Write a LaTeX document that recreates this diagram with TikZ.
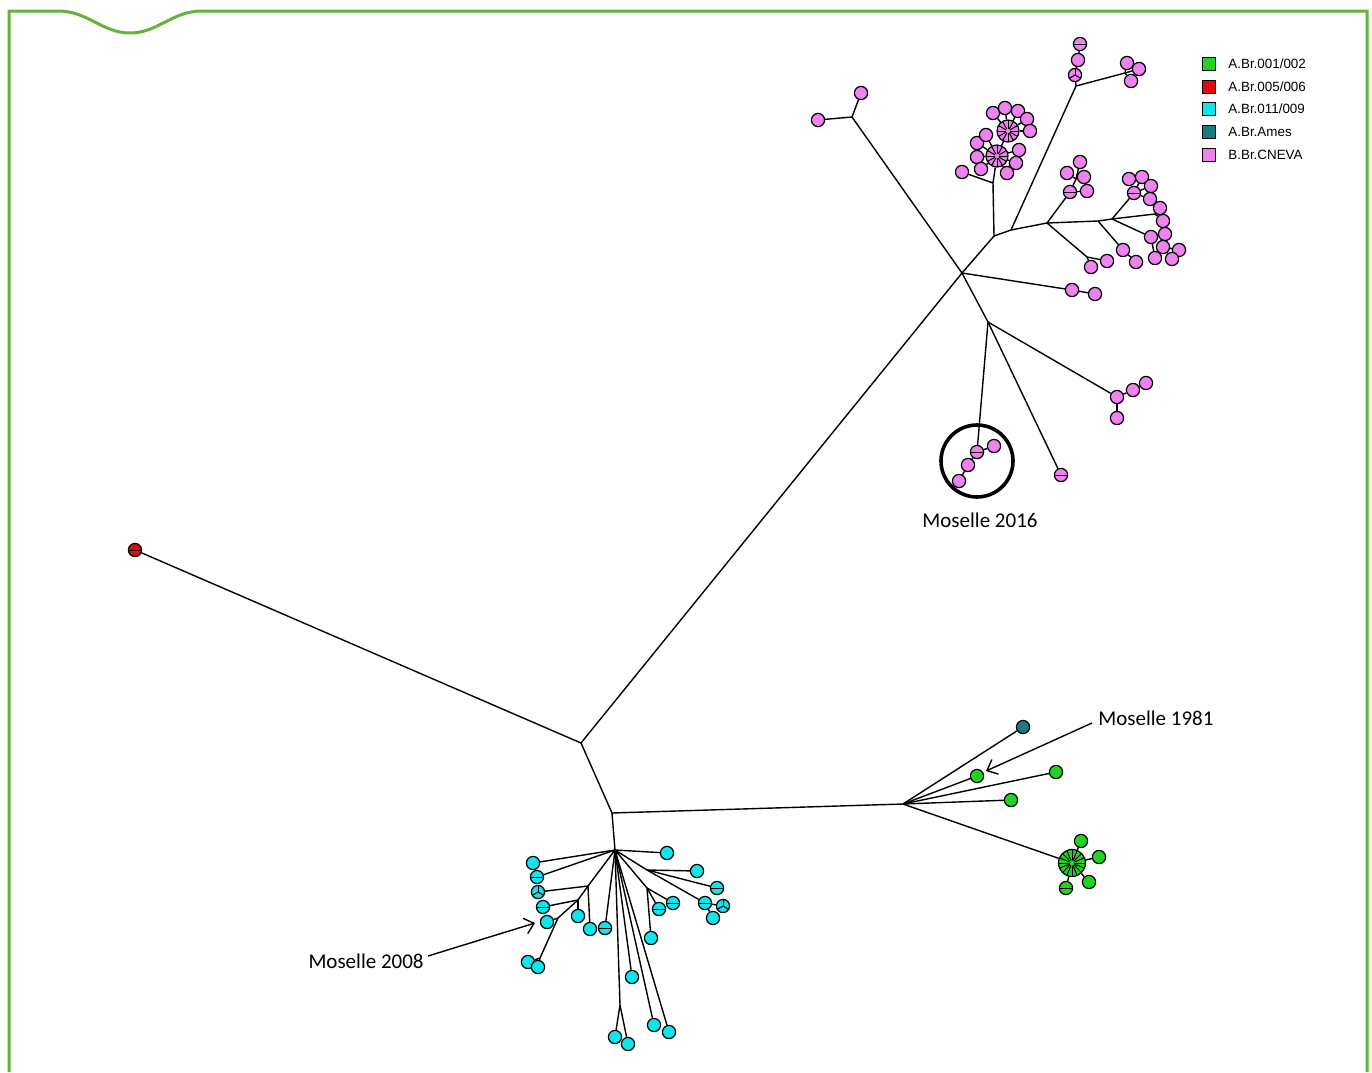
\documentclass[tikz,border=0pt]{standalone}
\usepackage{fontspec}
\setmainfont{Carlito}
\newfontfamily\legfont{Liberation Sans}
\usetikzlibrary{arrows.meta,backgrounds}
\definecolor{pk}{RGB}{238,130,238}
\definecolor{cy}{RGB}{16,228,236}
\definecolor{gr}{RGB}{34,212,34}
\definecolor{tl}{RGB}{26,124,124}
\definecolor{rd}{RGB}{228,8,8}
\definecolor{frm}{RGB}{102,178,58}
\tikzset{
  edge/.style={line width=0.7pt},
  lf/.style={circle,draw,line width=0.6pt,inner sep=0pt,minimum size=6.6pt},
  pkn/.style={lf,fill=pk},
  cyn/.style={lf,fill=cy},
  grn/.style={lf,fill=gr},
  tln/.style={lf,fill=tl},
  rdn/.style={lf,fill=rd},
  hsplit/.style={path picture={\draw[line width=0.5pt] (path picture bounding box.west) -- (path picture bounding box.east);}},
  tsplit/.style={path picture={\foreach \a in {90,210,330}{\draw[line width=0.5pt] (path picture bounding box.center) -- ++(\a:6pt);}}},
  starhub/.style={minimum size=11pt,path picture={\foreach \a in {0,30,...,330}{\draw[line width=0.5pt] (path picture bounding box.center) -- ++(\a:9pt);}\fill (path picture bounding box.center) circle (1.1pt);}},
  gstarhub/.style={minimum size=13.5pt,path picture={\foreach \a in {0,22.5,...,337.5}{\draw[line width=0.5pt] (path picture bounding box.center) -- ++(\a:10pt);}\fill (path picture bounding box.center) circle (1.3pt);}},
  lab/.style={font=\fontsize{10.5}{12}\selectfont,inner sep=0pt},
  legtxt/.style={font=\legfont\fontsize{6.7}{8}\selectfont,anchor=west,inner sep=0pt},
  legbox/.style={draw,line width=0.4pt,minimum size=6.4pt,inner sep=0pt},
  arr/.style={line width=0.7pt,-{Straight Barb[length=4.5pt,width=8pt]}},
  frame/.style={draw=frm,line width=1.5pt}
}
\begin{document}
\begin{tikzpicture}[x=0.5pt,y=-0.5pt]
\useasboundingbox (0,0) rectangle (1372,1072);
% frame
\draw[frame] (9,1072) -- (9,11) -- (58,11) .. controls (88,11) and (102,33) .. (130,33) .. controls (158,33) and (172,11) .. (202,11) -- (1367,11) -- (1367,1072);

% ---------- junctions ----------
\coordinate (J0) at (581,743);
\coordinate (J1) at (612,813);
\coordinate (PT) at (962,273);
\coordinate (Ptl) at (852,117);
\coordinate (PA) at (994,236);
\coordinate (PA2) at (993,183);
\coordinate (PB) at (1011,230);
\coordinate (PBt) at (1076,86);
\coordinate (PBr) at (1125,73);
\coordinate (PC) at (1047,223);
\coordinate (PDj) at (1076,179);
\coordinate (PE) at (1087,257);
\coordinate (PF) at (1098,221);
\coordinate (PG) at (1112,219);
\coordinate (PI) at (1155,214);
\coordinate (PL) at (988,322);
\coordinate (G) at (903,804);
\coordinate (CH) at (615,850);
\coordinate (Ja) at (588,886);
\coordinate (Jb) at (578,900);
\coordinate (Jc) at (558,918);
\coordinate (Jd) at (540,958);
\coordinate (Je) at (620,1005);
\coordinate (Jf) at (647,870);
\coordinate (Jg) at (647,888);

% ---------- red ----------
\node[rdn,hsplit] (rd1) at (135,550) {};

% ---------- pink ----------
\node[pkn] (p1) at (818,120) {};
\node[pkn] (p2) at (861,93) {};
\node[pkn] (p3) at (962,172) {};
\node[pkn,starhub] (S1) at (997,156) {};
\node[pkn,starhub] (S2) at (1008,131) {};
\node[pkn] (s1a) at (977,143) {};
\node[pkn] (s1b) at (977,157) {};
\node[pkn] (s1c) at (981,169) {};
\node[pkn] (s1d) at (1007,173) {};
\node[pkn] (s1e) at (1016,163) {};
\node[pkn] (s1f) at (1019,150) {};
\node[pkn] (s1g) at (986,135) {};
\node[pkn] (s2a) at (993,113) {};
\node[pkn] (s2b) at (1005,108) {};
\node[pkn] (s2c) at (1018,111) {};
\node[pkn] (s2d) at (1027,119) {};
\node[pkn] (s2e) at (1030,131) {};
\node[pkn,tsplit] (q1) at (1075,75) {};
\node[pkn] (q2) at (1078,60) {};
\node[pkn,hsplit] (q3) at (1080,44) {};
\node[pkn] (r1) at (1127,63) {};
\node[pkn] (r2) at (1139,69) {};
\node[pkn] (r3) at (1131,81) {};
\node[pkn,hsplit] (PD) at (1070,192) {};
\node[pkn] (d1) at (1067,173) {};
\node[pkn] (d2) at (1084,177) {};
\node[pkn] (d3) at (1080,162) {};
\node[pkn] (d4) at (1087,191) {};
\node[pkn] (e1) at (1091,267) {};
\node[pkn] (e2) at (1107,261) {};
\node[pkn] (f1) at (1123,250) {};
\node[pkn] (f2) at (1136,262) {};
\node[pkn,hsplit] (h0) at (1134,193) {};
\node[pkn] (h1) at (1129,179) {};
\node[pkn] (h2) at (1142,177) {};
\node[pkn] (h3) at (1151,186) {};
\node[pkn] (h4) at (1150,199) {};
\node[pkn] (i1) at (1160,208) {};
\node[pkn] (i2) at (1163,221) {};
\node[pkn] (k1) at (1151,237) {};
\node[pkn] (k2) at (1165,234) {};
\node[pkn] (k3) at (1163,247) {};
\node[pkn] (k4) at (1179,250) {};
\node[pkn] (k5) at (1172,259) {};
\node[pkn] (k6) at (1155,258) {};
\node[pkn] (m1) at (1072,290) {};
\node[pkn] (m2) at (1095,294) {};
\node[pkn] (n1) at (1117,397) {};
\node[pkn] (n2) at (1133,390) {};
\node[pkn] (n3) at (1146,383) {};
\node[pkn] (n4) at (1117,418) {};
\node[pkn,hsplit] (o1) at (1061,475) {};
\node[pkn,hsplit] (t1) at (977,452) {};
\node[pkn] (t2) at (994,446) {};
\node[pkn] (t3) at (968,465) {};
\node[pkn] (t4) at (959,481) {};
\node[circle,draw,line width=1.8pt,minimum size=36pt,inner sep=0pt] (ring) at (977,461) {};
\node[lab] (lab16) at (980,520) {Moselle 2016};

% ---------- green ----------
\node[tln] (tm) at (1023,727) {};
\node[grn] (g1) at (977,776) {};
\node[grn] (g2) at (1056,772) {};
\node[grn] (g3) at (1011,800) {};
\node[grn,gstarhub] (GS) at (1072,863) {};
\node[grn] (gs1) at (1081,841) {};
\node[grn] (gs2) at (1099,857) {};
\node[grn] (gs3) at (1089,882) {};
\node[grn,hsplit] (gs4) at (1066,888) {};
\node[lab,anchor=west] (lab81) at (1098,718) {Moselle 1981};
\coordinate (a81s) at (1092,723);
\coordinate (a81e) at (986,771);

% ---------- cyan ----------
\node[cyn] (c1) at (667,853) {};
\node[cyn] (c2) at (533,863) {};
\node[cyn,hsplit] (c3) at (537,877) {};
\node[cyn,tsplit] (c4) at (538,892) {};
\node[cyn,hsplit] (c5) at (543,907) {};
\node[cyn] (c6) at (578,916) {};
\node[cyn] (c7) at (547,922) {};
\node[cyn] (c7a) at (528,962) {};
\node[cyn] (c7b) at (538,967) {};
\node[cyn] (c8) at (590,929) {};
\node[cyn,hsplit] (c9) at (605,928) {};
\node[cyn] (c10) at (632,977) {};
\node[cyn] (c11) at (654,1025) {};
\node[cyn] (c12) at (669,1032) {};
\node[cyn] (c13) at (697,871) {};
\node[cyn,hsplit] (c14) at (717,888) {};
\node[cyn,hsplit] (c15) at (705,903) {};
\node[cyn,tsplit] (c16) at (723,906) {};
\node[cyn] (c17) at (713,918) {};
\node[cyn] (c18) at (651,938) {};
\node[cyn,hsplit] (c19) at (659,909) {};
\node[cyn,hsplit] (c20) at (673,903) {};
\node[cyn] (ce1) at (615,1037) {};
\node[cyn] (ce2) at (628,1044) {};
\node[lab,anchor=east] (lab08) at (424,961) {Moselle 2008};
\coordinate (a08s) at (428,956);
\coordinate (a08e) at (535,923);

% ---------- legend ----------
\node[legbox,fill=gr] (L1) at (1209,64) {};
\node[legbox,fill=rd] (L2) at (1209,87) {};
\node[legbox,fill=cy] (L3) at (1209,109) {};
\node[legbox,fill=tl] (L4) at (1209,132) {};
\node[legbox,fill=pk] (L5) at (1209,155) {};
\node[legtxt] (T1) at (1228,64) {A.Br.001/002};
\node[legtxt] (T2) at (1228,87) {A.Br.005/006};
\node[legtxt] (T3) at (1228,109) {A.Br.011/009};
\node[legtxt] (T4) at (1228,132) {A.Br.Ames};
\node[legtxt] (T5) at (1228,155) {B.Br.CNEVA};

% ---------- edges ----------
\begin{scope}[on background layer]
\draw[edge] (J0) -- (rd1);
\draw[edge] (J0) -- (PT) -- (PA);
\draw[edge] (Ptl) -- (PT) -- (PL);
\draw[edge] (Ptl) -- (p1);
\draw[edge] (Ptl) -- (p2);
\draw[edge] (PT) -- (m1) -- (m2);
\draw[edge] (PA) -- (PA2) -- (S1) -- (S2);
\draw[edge] (PA2) -- (p3);
\foreach \n in {s1a,s1b,s1c,s1d,s1e,s1f,s1g} \draw[edge] (S1) -- (\n);
\foreach \n in {s2a,s2b,s2c,s2d,s2e} \draw[edge] (S2) -- (\n);
\draw[edge] (PA) -- (PB) -- (PBt) -- (q1) -- (q2) -- (q3);
\draw[edge] (PBt) -- (PBr);
\foreach \n in {r1,r2,r3} \draw[edge] (PBr) -- (\n);
\draw[edge] (PB) -- (PC) -- (PF) -- (PG) -- (PI);
\draw[edge] (PC) -- (PD) -- (PDj);
\foreach \n in {d1,d2,d3} \draw[edge] (PDj) -- (\n);
\draw[edge] (PD) -- (d4);
\draw[edge] (PC) -- (PE);
\draw[edge] (PE) -- (e1);
\draw[edge] (PE) -- (e2);
\draw[edge] (PF) -- (f1) -- (f2);
\draw[edge] (PG) -- (h0);
\foreach \n in {h1,h2,h3,h4} \draw[edge] (h0) -- (\n);
\draw[edge] (PI) -- (i1);
\draw[edge] (PI) -- (i2);
\draw[edge] (PG) -- (k1) -- (k2) -- (k3) -- (k4);
\draw[edge] (k3) -- (k5);
\draw[edge] (k1) -- (k6);
\draw[edge] (PL) -- (n1) -- (n2) -- (n3);
\draw[edge] (n1) -- (n4);
\draw[edge] (PL) -- (o1);
\draw[edge] (PL) -- (t1) -- (t2);
\draw[edge] (t1) -- (t3) -- (t4);
% green
\draw[edge] (J0) -- (J1) -- (G);
\foreach \n in {tm,g1,g2,g3,GS} \draw[edge] (G) -- (\n);
\foreach \n in {gs1,gs2,gs3,gs4} \draw[edge] (GS) -- (\n);
% cyan
\draw[edge] (J1) -- (CH);
\foreach \n in {c1,c2,c3,c9,c10,c11,c12} \draw[edge] (CH) -- (\n);
\draw[edge] (CH) -- (Ja) -- (c4);
\draw[edge] (Ja) -- (c8);
\draw[edge] (Ja) -- (Jb) -- (c5);
\draw[edge] (Jb) -- (c6);
\draw[edge] (Jb) -- (Jc) -- (c7);
\draw[edge] (Jc) -- (Jd) -- (c7a);
\draw[edge] (Jd) -- (c7b);
\draw[edge] (CH) -- (Je) -- (ce1);
\draw[edge] (Je) -- (ce2);
\draw[edge] (CH) -- (Jf) -- (c13);
\draw[edge] (Jf) -- (c14);
\draw[edge] (Jf) -- (c15) -- (c16);
\draw[edge] (c15) -- (c17);
\draw[edge] (CH) -- (Jg) -- (c18);
\draw[edge] (Jg) -- (c19);
\draw[edge] (Jg) -- (c20);
\end{scope}
% arrows
\draw[arr] (a81s) -- (a81e);
\draw[arr] (a08s) -- (a08e);
\end{tikzpicture}
\end{document}
